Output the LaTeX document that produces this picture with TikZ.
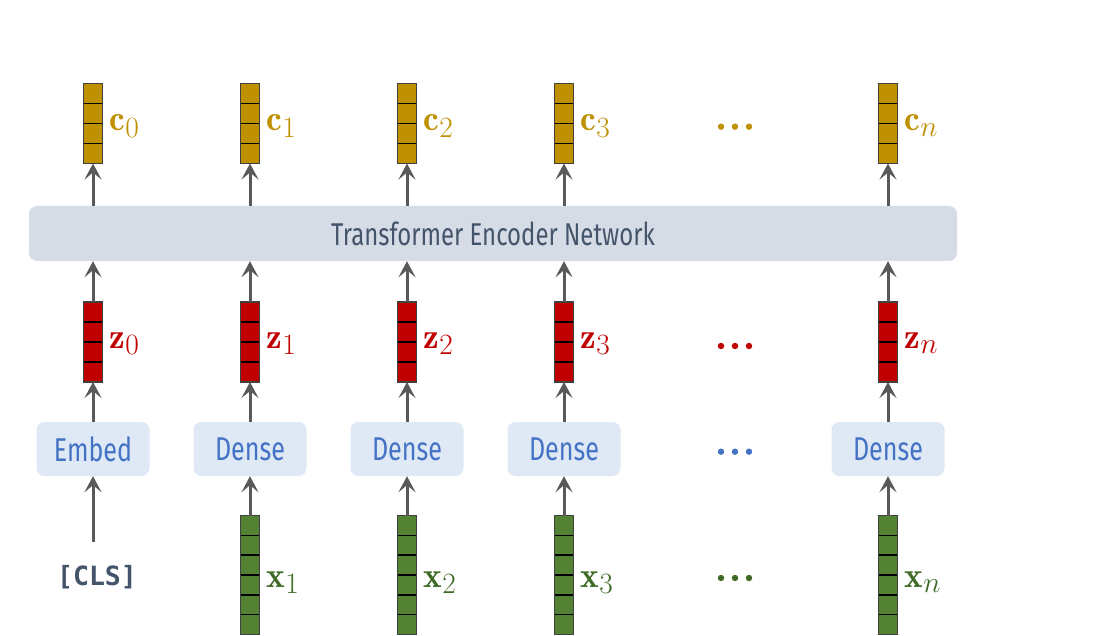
\documentclass[tikz,border=0pt]{standalone}
\usepackage{fontspec}
\newfontfamily\labfont[FakeStretch=0.76]{Fira Sans}
\newfontfamily\clsfont{DejaVu Sans Mono}
\usetikzlibrary{arrows.meta,calc}
\definecolor{cgold}{HTML}{BF9000}
\definecolor{cred}{HTML}{C00000}
\definecolor{cgreen}{HTML}{548235}
\definecolor{cgreentxt}{HTML}{3F6A26}
\definecolor{cblue}{HTML}{4472C4}
\definecolor{cbluefill}{HTML}{DEE9F5}
\definecolor{cslate}{HTML}{44546A}
\definecolor{cslatefill}{HTML}{D6DCE5}
\definecolor{carrow}{HTML}{595959}
\definecolor{cborder}{HTML}{404040}
\begin{document}
\begin{tikzpicture}[x=1pt,y=-1pt,
  vecbox/.style={draw=cborder, line width=1.6pt, minimum width=19pt, inner sep=0pt, outer sep=0pt},
  vec4/.style={vecbox, fill=#1, minimum height=80pt,
    path picture={\foreach \k in {1,2,3}{\draw[black,line width=1.5pt]
      ($(path picture bounding box.north west)!{\k/4}!(path picture bounding box.south west)$) --
      ($(path picture bounding box.north east)!{\k/4}!(path picture bounding box.south east)$);}}},
  vec6/.style={vecbox, fill=#1, minimum height=119pt,
    path picture={\foreach \k in {1,2,3,4,5}{\draw[black,line width=1.5pt]
      ($(path picture bounding box.north west)!{\k/6}!(path picture bounding box.south west)$) --
      ($(path picture bounding box.north east)!{\k/6}!(path picture bounding box.south east)$);}}},
  veclab/.style={anchor=base west, inner sep=0pt, font=\fontsize{24.88}{30}\selectfont, scale=1.42, text=#1},
  densebox/.style={fill=cbluefill, rounded corners=8pt, minimum width=113pt, minimum height=54pt,
    inner sep=0pt, text=cblue, font=\labfont\fontsize{33}{36}\selectfont},
  arr/.style={draw=carrow, line width=3pt, -{Stealth[length=16pt,width=17pt,inset=7pt]}}
]
\fill[white] (0,0) rectangle (1116,636);
\useasboundingbox (0,0) rectangle (1116,636);

\node[fill=cslatefill, rounded corners=8pt, minimum width=928pt, minimum height=55pt, inner sep=0pt,
  text=cslate, font=\labfont\fontsize{31.5}{34}\selectfont] (T) at (493,233.5) {Transformer Encoder Network};

\foreach \i/\x in {0/93,1/250,2/407,3/564,n/888}{
  \node[vec4=cgold] (c\i) at (\x,123.5) {};
  \node[veclab=cgold] (lc\i) at ($(c\i.east)+(7,7.5)$) {$\mathbf{c}_{\i}$};
  \node[vec4=cred] (z\i) at (\x,342) {};
  \node[veclab=cred] (lz\i) at ($(z\i.east)+(7,6)$) {$\mathbf{z}_{\i}$};
  \draw[arr] (T.north -| c\i.south) -- (c\i.south);
  \draw[arr] (z\i.north) -- (T.south -| z\i.north);
}

\node[densebox] (d0) at (93,449) {Embed};
\foreach \i/\x in {1/250,2/407,3/564,n/888}{
  \node[densebox] (d\i) at (\x,449) {Dense};
  \node[vec6=cgreen] (x\i) at (\x,575) {};
  \node[veclab=cgreentxt] (lx\i) at ($(x\i.east)+(7,12)$) {$\mathbf{x}_{\i}$};
  \draw[arr] (x\i.north) -- (d\i.south);
}
\foreach \i in {0,1,2,3,n}{
  \draw[arr] (d\i.north) -- (z\i.south);
}

\node[text=cslate, font=\clsfont\bfseries\fontsize{26.5}{30}\selectfont, inner sep=0pt] (cls) at (97,577) {[CLS]};
\coordinate (clstop) at (93,541.7);
\draw[arr] (clstop) -- (d0.south);

\foreach \y/\c in {126.7/cgold,346/cred,451.7/cblue,578/cgreentxt}{
  \foreach \dx in {-14,0,14}{
    \fill[\c] (735+\dx,\y) circle (3.2pt);
  }
}
\end{tikzpicture}
\end{document}
